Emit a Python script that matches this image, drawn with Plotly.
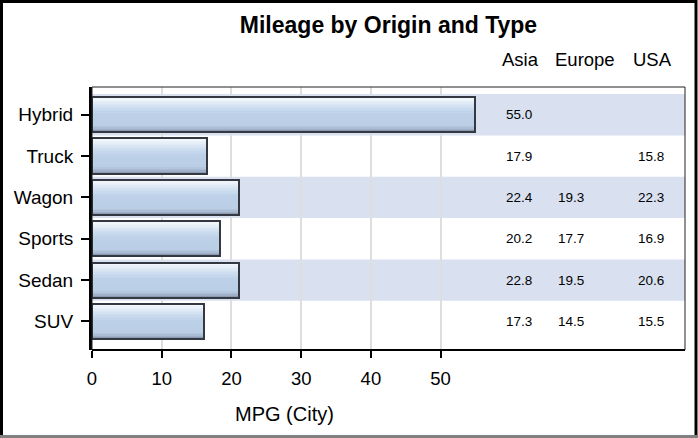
import plotly.graph_objects as go

# ---------------- data ----------------
types = ["Hybrid", "Truck", "Wagon", "Sports", "Sedan", "SUV"]
mpg_city = [55.0, 16.5, 21.1, 18.4, 21.1, 16.1]
origins = ["Asia", "Europe", "USA"]
asia = [55.0, 17.9, 22.4, 20.2, 22.8, 17.3]
europe = [None, None, 19.3, 17.7, 19.5, 14.5]
usa = [None, 15.8, 22.3, 16.9, 20.6, 15.5]
x_ticks = [0, 10, 20, 30, 40, 50]

# ---------------- layout constants ----------------
W, H = 698, 438
L, R, T, B = 92, 13, 87, 88
PW, PH = W - L - R, H - T - B
FONT = "Arial, Liberation Sans, sans-serif"
BAND = "#D9E0EF"
BAR_W = 0.85


def px_x(p):
    return (p - L) / PW


def px_y(p):
    return (H - B - p) / PH


fig = go.Figure()

# gradient bars built from thin overlaid strips
stops = [(0.0, (248, 251, 254)), (0.12, (234, 241, 249)), (0.35, (200, 218, 238)),
         (0.5, (188, 208, 232)), (0.82, (186, 206, 230)), (0.92, (166, 184, 208)),
         (1.0, (128, 144, 166))]


def grad(t):
    for (a, ca), (b, cb) in zip(stops[:-1], stops[1:]):
        if a <= t <= b:
            f = (t - a) / (b - a)
            c = [round(ca[i] + (cb[i] - ca[i]) * f) for i in range(3)]
            return "rgb(%d,%d,%d)" % tuple(c)
    return "rgb(%d,%d,%d)" % stops[-1][1]


N = 24
sw = BAR_W / N
for k in range(N):
    fig.add_trace(go.Bar(
        x=mpg_city, y=types, orientation="h",
        width=sw * 1.15, offset=-BAR_W / 2 + k * sw,
        marker=dict(color=grad((k + 0.5) / N), line=dict(width=0)),
        hoverinfo="skip", showlegend=False))

fig.add_trace(go.Bar(
    x=mpg_city, y=types, orientation="h", width=BAR_W, offset=-BAR_W / 2,
    marker=dict(color="rgba(0,0,0,0)", line=dict(color="#333842", width=2)),
    name="MPG (City)", showlegend=False))

shapes = []
# alternating row bands
for i in range(0, len(types), 2):
    shapes.append(dict(type="rect", xref="paper", yref="y", x0=0, x1=1,
                       y0=i - 0.5, y1=i + 0.5, fillcolor=BAND,
                       line=dict(width=0), layer="below"))
# plot frame
shapes.append(dict(type="rect", xref="paper", yref="paper", x0=0, x1=1, y0=0, y1=1,
                   line=dict(color="#222222", width=1), layer="above"))
shapes.append(dict(type="line", xref="paper", yref="paper", x0=0, x1=1, y0=0, y1=0,
                   line=dict(color="#000000", width=2), layer="above"))
# outer image border
shapes.append(dict(type="rect", xref="paper", yref="paper",
                   x0=px_x(1.5), x1=px_x(696), y0=px_y(436.5), y1=px_y(1.5),
                   line=dict(color="#000000", width=3), layer="above"))
shapes.append(dict(type="line", xref="paper", yref="paper",
                   x0=px_x(0), x1=px_x(698), y0=px_y(436.5), y1=px_y(436.5),
                   line=dict(color="#808080", width=3), layer="above"))

annotations = []
col_head_x = [500, 553, 631]
col_val_x = [504, 556, 636]
for j, (name, vals) in enumerate(zip(origins, [asia, europe, usa])):
    annotations.append(dict(text=name, xref="paper", yref="paper",
                            x=px_x(col_head_x[j]), y=px_y(60),
                            xanchor="left", yanchor="middle", showarrow=False,
                            font=dict(family=FONT, size=18.5, color="#000000")))
    for t, v in zip(types, vals):
        if v is None:
            continue
        annotations.append(dict(text="%.1f" % v, xref="paper", yref="y",
                                x=px_x(col_val_x[j]), y=t,
                                xanchor="left", yanchor="middle", showarrow=False,
                                font=dict(family=FONT, size=13.5, color="#000000")))

fig.update_layout(
    width=W, height=H,
    margin=dict(l=L, r=R, t=T, b=B, pad=0),
    paper_bgcolor="white", plot_bgcolor="white",
    barmode="overlay", bargap=0,
    showlegend=False,
    title=dict(text="<b>Mileage by Origin and Type</b>", xref="paper", x=0.5,
               xanchor="center", yref="container", y=1 - 25 / H, yanchor="middle",
               font=dict(family=FONT, size=23, color="#000000")),
    xaxis=dict(domain=[0, 0.649], range=[0, 55.2], tickvals=x_ticks,
               showgrid=True, gridcolor="#DEDEDE", gridwidth=2, zeroline=False,
               showline=False, ticks="outside", ticklen=7, tickwidth=1.5,
               tickcolor="#000000", ticklabelstandoff=5,
               tickfont=dict(family=FONT, size=18.5, color="#000000"),
               title=dict(text="MPG (City)", standoff=18,
                          font=dict(family=FONT, size=20, color="#000000"))),
    yaxis=dict(categoryorder="array", categoryarray=types,
               range=[len(types) - 0.5 + 0.19, -0.5 - 0.17],
               showgrid=False, zeroline=False, showline=True, linecolor="#000000",
               linewidth=3, ticks="outside", ticklen=8, tickwidth=2,
               tickcolor="#000000", ticklabelstandoff=4,
               tickfont=dict(family=FONT, size=19, color="#000000")),
    shapes=shapes, annotations=annotations,
    font=dict(family=FONT, color="#000000"),
)

fig.write_html("out.html",
               config={"displayModeBar": False},
               post_script="document.body.style.margin='0px';"
                           "document.body.style.overflow='hidden';")
